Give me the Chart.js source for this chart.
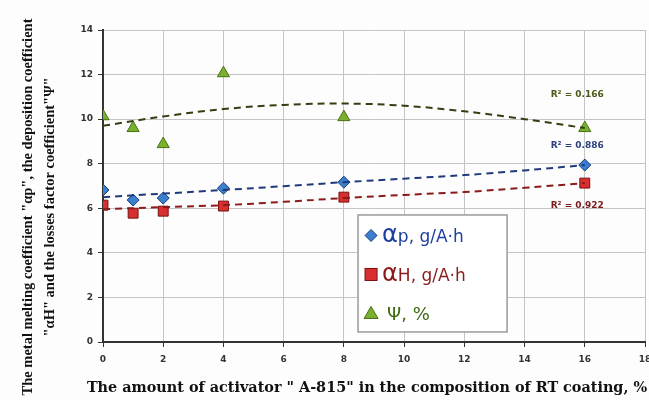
<!DOCTYPE html>
<html>
<head>
<meta charset="utf-8">
<script src="https://cdn.jsdelivr.net/npm/chart.js@4"></script>
<style>
  html, body { margin: 0; padding: 0; background: #fdfdfd; overflow: hidden; }
  #wrap { width: 649px; height: 400px; position: relative; overflow: hidden; }
</style>
</head>
<body>
<div id="wrap"><canvas id="chart" width="653" height="400"></canvas></div>
<script>
// activator amount, %
const activator = [0, 1, 2, 4, 8, 16];
const alphaP = [6.82, 6.37, 6.46, 6.9, 7.17, 7.94];
const alphaH = [6.14, 5.78, 5.87, 6.1, 6.5, 7.13];
const psi = [10.13, 9.6, 8.88, 12.06, 10.09, 9.6];

// trend lines
const trendX = [0, 2, 4, 6, 8, 10, 12, 14, 16];
const trendP = [6.5, 6.66, 6.82, 6.99, 7.17, 7.33, 7.49, 7.7, 7.94];
const trendH = [5.96, 6.05, 6.14, 6.29, 6.46, 6.6, 6.73, 6.92, 7.13];
const trendPsi = [9.7, 10.12, 10.45, 10.64, 10.7, 10.6, 10.35, 10.0, 9.6];

const xTicks = [0, 2, 4, 6, 8, 10, 12, 14, 16, 18];
const yTicks = [0, 2, 4, 6, 8, 10, 12, 14];

const rSquared = [
  { text: 'R² = 0.166', y: 11.08, color: '#4a5a1a' },
  { text: 'R² = 0.886', y: 8.83, color: '#2a3f7a' },
  { text: 'R² = 0.922', y: 6.14, color: '#7a1a1a' }
];

const legendItems = [
  { sym: 'α', sub: 'p, g/A·h', color: '#1f3f9f', marker: 'diamond' },
  { sym: 'α', sub: 'H, g/A·h', color: '#8b1a1a', marker: 'square' },
  { sym: 'Ψ', sub: ', %', color: '#3f6a10', marker: 'triangle' }
];

const xTitle = 'The amount of activator " A-815" in the composition of RT coating, %';
const yTitle = ['The metal melting coefficient "αp", the deposition coefficient',
                '"αH" and the losses factor coefficient"Ψ"'];

const pts = (xs, ys) => xs.map((x, i) => ({ x: x, y: ys[i] }));

function drawMarker(ctx, type, x, y) {
  ctx.save();
  ctx.lineWidth = 1;
  if (type === 'diamond') {
    ctx.fillStyle = '#3a7fd0'; ctx.strokeStyle = '#1a3a7a';
    ctx.beginPath();
    ctx.moveTo(x, y - 6); ctx.lineTo(x + 6, y); ctx.lineTo(x, y + 6); ctx.lineTo(x - 6, y);
    ctx.closePath(); ctx.fill(); ctx.stroke();
  } else if (type === 'square') {
    ctx.fillStyle = '#d83030'; ctx.strokeStyle = '#7a1010';
    ctx.fillRect(x - 6, y - 6, 12, 12); ctx.strokeRect(x - 6, y - 6, 12, 12);
  } else {
    ctx.fillStyle = '#7ab030'; ctx.strokeStyle = '#4a7010';
    ctx.beginPath();
    ctx.moveTo(x, y - 7); ctx.lineTo(x + 7, y + 5); ctx.lineTo(x - 7, y + 5);
    ctx.closePath(); ctx.fill(); ctx.stroke();
  }
  ctx.restore();
}

const overlay = {
  id: 'overlay',
  afterDatasetsDraw(chart) {
    const ctx = chart.ctx;
    const xs = chart.scales.x, ys = chart.scales.y;
    // R² labels
    ctx.save();
    ctx.font = 'bold 9px "DejaVu Sans"';
    ctx.textAlign = 'center';
    ctx.textBaseline = 'middle';
    rSquared.forEach(r => {
      ctx.fillStyle = r.color;
      ctx.fillText(r.text, xs.getPixelForValue(15.75), ys.getPixelForValue(r.y));
    });
    ctx.restore();

    // legend box
    const left = xs.getPixelForValue(8.47), right = xs.getPixelForValue(13.42);
    const top = ys.getPixelForValue(5.7), bottom = ys.getPixelForValue(0.45);
    ctx.save();
    ctx.fillStyle = '#ffffff';
    ctx.fillRect(left, top, right - left, bottom - top);
    ctx.strokeStyle = '#9a9a9a';
    ctx.lineWidth = 1.5;
    ctx.strokeRect(left, top, right - left, bottom - top);
    const rowH = (bottom - top) / 3;
    legendItems.forEach((it, i) => {
      const cy = top + rowH * (i + 0.5) + 1;
      drawMarker(ctx, it.marker, left + 13, cy);
      ctx.fillStyle = it.color;
      ctx.textBaseline = 'alphabetic';
      ctx.textAlign = 'left';
      const base = cy + 7;
      if (it.sym === 'α') {
        ctx.font = '24px "DejaVu Sans"';
        ctx.fillText(it.sym, left + 24, base);
        const w = ctx.measureText(it.sym).width;
        ctx.font = '17px "DejaVu Sans"';
        ctx.fillText(it.sub, left + 24 + w, base);
      } else {
        ctx.font = '18px "DejaVu Sans"';
        ctx.fillText(it.sym + it.sub, left + 29, base);
      }
    });
    ctx.restore();
  },
  afterDraw(chart) {
    const ctx = chart.ctx;
    ctx.save();
    ctx.fillStyle = '#111';
    ctx.textAlign = 'center';
    ctx.textBaseline = 'middle';
    ctx.font = 'bold 14.4px "DejaVu Serif"';
    ctx.fillText(xTitle, 367, 388);
    ctx.translate(0, 207);
    ctx.rotate(-Math.PI / 2);
    ctx.font = 'bold 14.5px "Liberation Serif"';
    ctx.fillText(yTitle[0], 0, 28);
    ctx.fillText(yTitle[1], 0, 50);
    ctx.restore();
  }
};

new Chart(document.getElementById('chart'), {
  type: 'scatter',
  data: {
    datasets: [
      {
        label: 'trend Ψ', type: 'line', data: pts(trendX, trendPsi),
        borderColor: '#333f10', borderWidth: 2, borderDash: [7, 5],
        pointRadius: 0, tension: 0.4, fill: false
      },
      {
        label: 'trend αp', type: 'line', data: pts(trendX, trendP),
        borderColor: '#1f3a7a', borderWidth: 2, borderDash: [7, 5],
        pointRadius: 0, tension: 0.4, fill: false
      },
      {
        label: 'trend αH', type: 'line', data: pts(trendX, trendH),
        borderColor: '#8b1a1a', borderWidth: 2, borderDash: [7, 5],
        pointRadius: 0, tension: 0.4, fill: false
      },
      {
        label: 'αp, g/A·h', data: pts(activator, alphaP),
        pointStyle: 'rectRot', pointRadius: 6,
        backgroundColor: '#3a7fd0', borderColor: '#1a3a7a', borderWidth: 1
      },
      {
        label: 'αH, g/A·h', data: pts(activator, alphaH),
        pointStyle: 'rect', pointRadius: 7,
        backgroundColor: '#d83030', borderColor: '#7a1010', borderWidth: 1
      },
      {
        label: 'Ψ, %', data: pts(activator, psi),
        pointStyle: 'triangle', pointRadius: 7,
        backgroundColor: '#7ab030', borderColor: '#4a7010', borderWidth: 1
      }
    ]
  },
  options: {
    responsive: false,
    animation: false,
    layout: { padding: { left: 0, right: 0, top: 30, bottom: 0 } },
    plugins: {
      legend: { display: false },
      tooltip: { enabled: false }
    },
    scales: {
      x: {
        type: 'linear', min: 0, max: 18,
        afterBuildTicks: axis => { axis.ticks = xTicks.map(v => ({ value: v })); },
        afterFit: axis => { axis.height = 58; axis.paddingRight = 0; axis.paddingLeft = 0; },
        grid: { color: '#c4c4c4', lineWidth: 1, tickLength: 5, tickColor: '#333' },
        border: { color: '#333', width: 2 },
        ticks: { color: '#333', font: { family: 'DejaVu Sans', size: 9, weight: 'bold' }, padding: 7 },
        title: { display: false }
      },
      y: {
        type: 'linear', min: 0, max: 14,
        afterBuildTicks: axis => { axis.ticks = yTicks.map(v => ({ value: v })); },
        afterFit: axis => { axis.width = 103; axis.paddingTop = 0; axis.paddingBottom = 0; },
        grid: { color: '#c4c4c4', lineWidth: 1, tickLength: 5, tickColor: '#333' },
        border: { color: '#333', width: 2 },
        ticks: { color: '#333', font: { family: 'DejaVu Sans', size: 9, weight: 'bold' }, padding: 5 },
        title: { display: false }
      }
    }
  },
  plugins: [overlay]
});
</script>
</body>
</html>
